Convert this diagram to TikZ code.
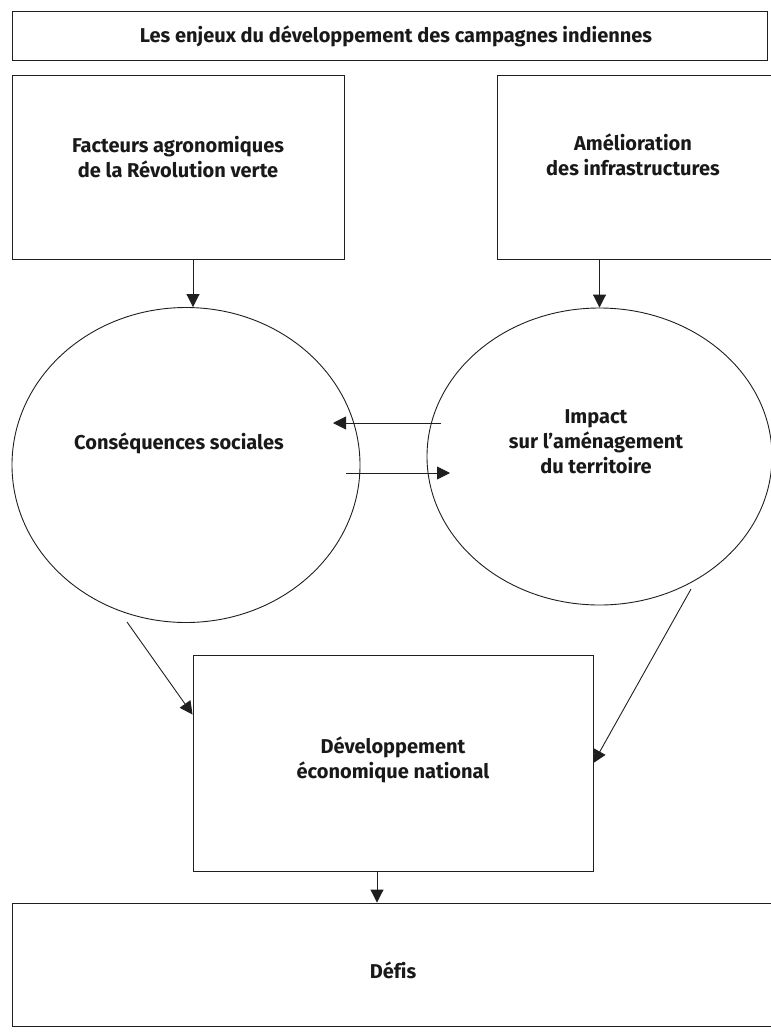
\documentclass[tikz,border=0pt]{standalone}
\usepackage{fontspec}
\setmainfont[Ligatures=NoCommon]{Fira Sans}
\usetikzlibrary{shapes.geometric,arrows.meta,calc}

\tikzset{
  trait/.style={draw=black!88, line width=0.9pt},
  boite/.style={trait, rectangle, inner sep=0pt},
  bulle/.style={trait, ellipse, inner sep=0pt},
  texte/.style={align=center, text=black!90, font=\bfseries\fontsize{20}{25}\selectfont},
  fleche/.style={trait, -{Triangle[length=13pt,width=13pt]}}
}

\begin{document}
\begin{tikzpicture}[x=1pt,y=-1pt]
    \useasboundingbox (0,0) rectangle (771,1034);

    % Titre
    \node[boite, minimum width=755pt, minimum height=49pt] (titre) at (389.5,35.5) {};
    \node[texte] (t-titre) at (396,36) {Les enjeux du développement des campagnes indiennes};

    % Facteurs et infrastructures
    \node[boite, minimum width=332pt, minimum height=184pt] (facteurs) at (178,167) {};
    \node[texte] (t-facteurs) at (178,157) {Facteurs agronomiques\\de la Révolution verte};

    \node[boite, minimum width=275pt, minimum height=184pt] (infra) at (634.5,167) {};
    \node[texte] (t-infra) at (633,155) {Amélioration\\des infrastructures};

    % Ellipses
    \node[bulle, minimum width=348pt, minimum height=315pt] (conseq) at (186,465) {};
    \node[texte] (t-conseq) at (179,443) {Conséquences sociales};

    \node[bulle, minimum width=345pt, minimum height=297pt] (impact) at (599.5,456.5) {};
    \node[texte] (t-impact) at (596,442) {Impact\\sur l’aménagement\\du territoire};

    % Développement
    \node[boite, minimum width=400pt, minimum height=216pt] (dev) at (393,763) {};
    \node[texte] (t-dev) at (393,760) {Développement\\économique national};

    % Défis
    \node[boite, minimum width=762pt, minimum height=123pt] (defis) at (393,964.5) {};
    \node[texte] (t-defis) at (393,970) {Défis};

    % Points libres des flèches
    \coordinate (hautD) at (441,423);
    \coordinate (hautG) at (333,423);
    \coordinate (basG) at (346,473);
    \coordinate (basD) at (450,473);
    \coordinate (sortG) at (127,622);
    \coordinate (sortD) at (691,589);

    % Flèches
    \draw[fleche] ($(facteurs.south)+(15,0)$) -- ($(conseq.north)+(7,0)$);
    \draw[fleche] (infra.south -| impact.north) -- (impact.north);
    \draw[fleche] (hautD) -- (hautG);
    \draw[fleche] (basG) -- (basD);
    \draw[fleche] (sortG) -- ($(dev.north west)+(0,60)$);
    \draw[fleche] (sortD) -- (dev.east);
    \draw[fleche] ($(dev.south)+(-16,0)$) -- ($(defis.north)+(-16,0)$);

\end{tikzpicture}
\end{document}
